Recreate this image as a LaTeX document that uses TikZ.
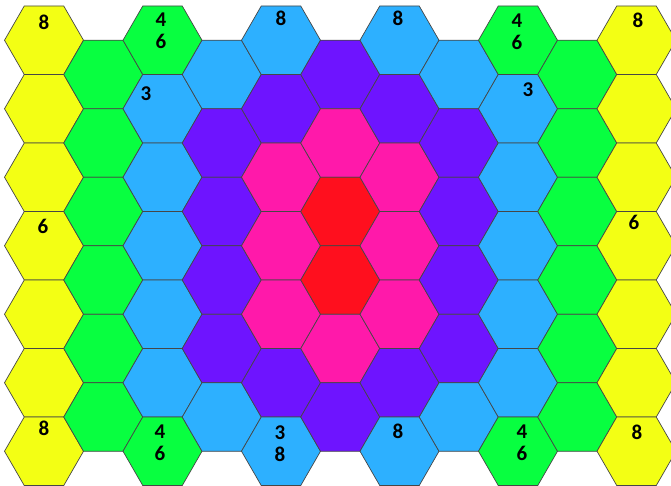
\documentclass[tikz,border=0pt]{standalone}
\usepackage{fontspec}
\setmainfont{Carlito}
\definecolor{hY}{RGB}{243,255,20}
\definecolor{hG}{RGB}{8,255,64}
\definecolor{hB}{RGB}{45,176,255}
\definecolor{hP}{RGB}{110,20,255}
\definecolor{hK}{RGB}{255,25,170}
\definecolor{hR}{RGB}{255,15,30}
\definecolor{hEdge}{RGB}{70,70,70}
\begin{document}
\begin{tikzpicture}[x=1pt,y=-1pt,
  hexcell/.style={draw=hEdge,line width=0.7pt,line join=miter},
  numlabel/.style={inner sep=0pt,align=center,font=\fontsize{21}{22}\selectfont\bfseries}]
\useasboundingbox (0,0) rectangle (671,486);
\clip (0,0) rectangle (671,486);
\foreach \c/\cl in {
  0/{hY,hY,hY,hY,hY,hY,hY},
  1/{hG,hG,hG,hG,hG,hG},
  2/{hG,hB,hB,hB,hB,hB,hG},
  3/{hB,hP,hP,hP,hP,hB},
  4/{hB,hP,hK,hK,hK,hP,hB},
  5/{hP,hK,hR,hR,hK,hP},
  6/{hB,hP,hK,hK,hK,hP,hB},
  7/{hB,hP,hP,hP,hP,hB},
  8/{hG,hB,hB,hB,hB,hB,hG},
  9/{hG,hG,hG,hG,hG,hG},
  10/{hY,hY,hY,hY,hY,hY,hY}}{
  \foreach \k [count=\r from 0] in \cl {
    \pgfmathsetmacro{\xx}{44+59.25*\c}
    \pgfmathsetmacro{\yy}{40.25+34.25*mod(\c,2)+68.5*\r}
    \filldraw[hexcell,fill=\k] (\xx+39.5,\yy) -- (\xx+19.75,\yy+34.25) -- (\xx-19.75,\yy+34.25)
      -- (\xx-39.5,\yy) -- (\xx-19.75,\yy-34.25) -- (\xx+19.75,\yy-34.25) -- cycle;
  }
}
\node[numlabel] (l00) at (44,22) {8};
\node[numlabel] (l20) at (161,31) {4\\6};
\node[numlabel] (l21) at (146,94) {3};
\node[numlabel] (l40) at (281,18) {8};
\node[numlabel] (l60) at (398,18) {8};
\node[numlabel] (l80) at (517,32) {4\\6};
\node[numlabel] (l81) at (528,90) {3};
\node[numlabel] (l100) at (638,20) {8};
\node[numlabel] (l03) at (43,226) {6};
\node[numlabel] (l103) at (634,222) {6};
\node[numlabel] (l06) at (44,428) {8};
\node[numlabel] (l26) at (160,443) {4\\6};
\node[numlabel] (l46) at (280,444) {3\\8};
\node[numlabel] (l66) at (398,431) {8};
\node[numlabel] (l86) at (522,443) {4\\6};
\node[numlabel] (l106) at (637,432) {8};
\end{tikzpicture}
\end{document}
